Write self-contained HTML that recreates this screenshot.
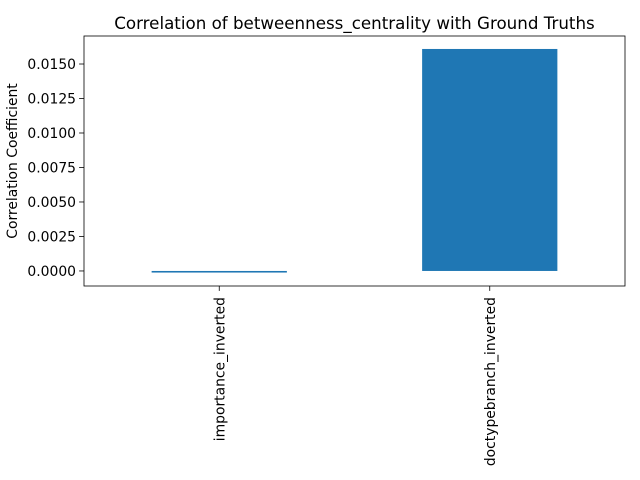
<!DOCTYPE html>
<html><head><meta charset="utf-8"><style>
body{margin:0;background:#fff;}
svg{display:block;font-family:"DejaVu Sans","Liberation Sans",sans-serif;}
</style></head><body>
<svg id="chart" width="640" height="480"></svg>
<script>
const categories = ["importance_inverted", "doctypebranch_inverted"];
const values = [-0.0001, 0.01609];
const yTicks = [0, 0.0025, 0.005, 0.0075, 0.01, 0.0125, 0.015];
const yTickLabels = ["0.0000","0.0025","0.0050","0.0075","0.0100","0.0125","0.0150"];
const yMin = -0.00109, yMax = 0.01703;
const L = 84, R = 625, T = 36, B = 286;
const NS = "http://www.w3.org/2000/svg";
const svg = document.getElementById("chart");
function y(v){ return B - (v - yMin) / (yMax - yMin) * (B - T); }
function xc(i){ return L + (R - L) * (i + 0.5) / categories.length; }
const bw = (R - L) / categories.length * 0.5;
function mk(tag, attrs, parent){ const e = document.createElementNS(NS, tag); for (const k in attrs) e.setAttribute(k, attrs[k]); (parent||svg).appendChild(e); return e; }

const title = mk("text", {x:(L+R)/2, y:29, "text-anchor":"middle", "font-size":"16.7", fill:"#000"});


title.textContent = "Correlation of betweenness_centrality with Ground Truths";

categories.forEach((c, i) => {
  const v = values[i];
  const y0 = y(0), y1 = y(v);
  const r = mk("rect", {x:xc(i)-bw/2, y:Math.min(y0,y1), width:bw, height:Math.max(Math.abs(y1-y0),1.6), fill:"#1f77b4"});
  
  
  mk("line", {x1:xc(i), x2:xc(i), y1:B, y2:B+4.9, stroke:"#000", "stroke-width":0.8});
  const t = mk("text", {transform:`translate(${xc(i)+5},${B+11}) rotate(-90)`, "text-anchor":"end", "font-size":"13.9", fill:"#000"});
  
  
  t.textContent = c;
});

yTicks.forEach((v, i) => {
  mk("line", {x1:L-4.9, x2:L, y1:y(v), y2:y(v), stroke:"#000", "stroke-width":0.8});
  const t = mk("text", {x:L-8, y:y(v)+5, "text-anchor":"end", "font-size":"13.9", fill:"#000"});
  
  
  t.textContent = yTickLabels[i];
});

const frame = mk("rect", {x:L, y:T, width:R-L, height:B-T, fill:"none", stroke:"#000", "stroke-width":0.8});



const yl = mk("text", {transform:`translate(17,${(T+B)/2}) rotate(-90)`, "text-anchor":"middle", "font-size":"13.9", fill:"#000"});


yl.textContent = "Correlation Coefficient";
</script>
</body></html>
